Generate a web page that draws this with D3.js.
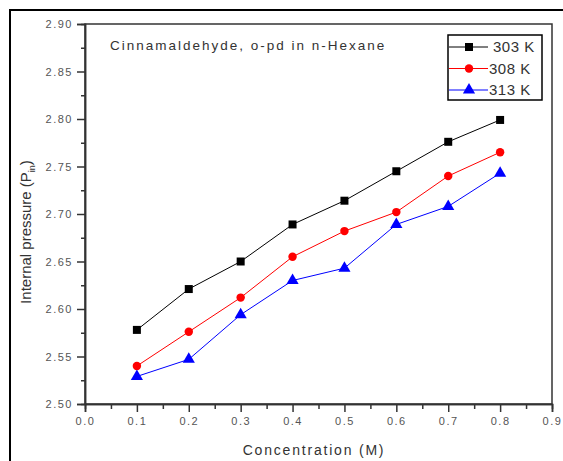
<!DOCTYPE html>
<html>
<head>
<meta charset="utf-8">
<script src="https://cdn.jsdelivr.net/npm/d3@7"></script>
<style>
body { margin: 0; background: #fff; }
svg { display: block; font-family: "Liberation Sans", Arial, sans-serif; }
</style>
</head>
<body>
<div id="chart"></div>
<script>
var width = 563, height = 461;

// data
var concentration = [0.1, 0.2, 0.3, 0.4, 0.5, 0.6, 0.7, 0.8];
var p303 = [2.578, 2.621, 2.650, 2.689, 2.714, 2.745, 2.776, 2.799];
var p308 = [2.540, 2.576, 2.612, 2.655, 2.682, 2.702, 2.740, 2.765];
var p313 = [2.529, 2.547, 2.594, 2.630, 2.643, 2.689, 2.708, 2.743];
var seriesNames = ['303 K', '308 K', '313 K'];
var xTicks = [0.0, 0.1, 0.2, 0.3, 0.4, 0.5, 0.6, 0.7, 0.8, 0.9];
var yTicks = [2.50, 2.55, 2.60, 2.65, 2.70, 2.75, 2.80, 2.85, 2.90];

var series = [
    { name: seriesNames[0], values: p303, color: '#000000', shape: d3.symbolSquare, size: 64 },
    { name: seriesNames[1], values: p308, color: '#ff0000', shape: d3.symbolCircle, size: 56 },
    { name: seriesNames[2], values: p313, color: '#0000ff', shape: d3.symbolTriangle, size: 64 }
];

var plotLeft = 85, plotTop = 24, plotRight = 552, plotBottom = 404;

var svg = d3.select('#chart').append('svg')
    .attr('width', width)
    .attr('height', height);

// outer frame
svg.append('rect')
    .attr('x', 10).attr('y', 10)
    .attr('width', 620).attr('height', 520)
    .attr('fill', 'none')
    .attr('stroke', '#000')
    .attr('stroke-width', 2);

var x = d3.scaleLinear().domain([0, 0.9]).range([plotLeft, plotRight]);
var y = d3.scaleLinear().domain([2.50, 2.90]).range([plotBottom, plotTop]);

// plot box
svg.append('rect')
    .attr('x', plotLeft).attr('y', plotTop)
    .attr('width', plotRight - plotLeft).attr('height', plotBottom - plotTop)
    .attr('fill', 'none')
    .attr('stroke', '#333')
    .attr('stroke-width', 1.5);

// minor ticks
var xMinor = d3.range(0.05, 0.9, 0.1);
var yMinor = d3.range(2.525, 2.9, 0.05);

var gx = svg.append('g').attr('transform', 'translate(0,' + plotBottom + ')');
gx.call(d3.axisBottom(x).tickValues(xTicks).tickSize(8).tickPadding(5)
    .tickFormat(d3.format('.1f')));
gx.append('g').call(d3.axisBottom(x).tickValues(xMinor).tickSize(5).tickFormat(''));

var gy = svg.append('g').attr('transform', 'translate(' + plotLeft + ',0)');
gy.call(d3.axisLeft(y).tickValues(yTicks).tickSize(8).tickPadding(4)
    .tickFormat(d3.format('.2f')));
gy.append('g').call(d3.axisLeft(y).tickValues(yMinor).tickSize(4).tickFormat(''));

svg.selectAll('.domain').attr('stroke', '#333').attr('stroke-width', 1.5);
svg.selectAll('.tick line').attr('stroke', '#333').attr('stroke-width', 1.5);
svg.selectAll('.tick text')
    .attr('fill', '#555')
    .style('font-size', '11px')
    .style('letter-spacing', '1.5px');

// axis titles
svg.append('text')
    .attr('x', 314)
    .attr('y', 455)
    .attr('text-anchor', 'middle')
    .attr('fill', '#333')
    .style('font-size', '14px')
    .style('letter-spacing', '1.8px')
    .text('Concentration (M)');

var yl = svg.append('text')
    .attr('transform', 'translate(31,232) rotate(-90)')
    .attr('text-anchor', 'middle')
    .attr('fill', '#333')
    .style('font-size', '15px');
yl.append('tspan').text('Internal pressure (P');
yl.append('tspan').attr('dy', 4).style('font-size', '9px').text('in');
yl.append('tspan').attr('dy', -4).text(')');

// title
svg.append('text')
    .attr('x', 110).attr('y', 50)
    .attr('fill', '#333')
    .style('font-size', '13.5px')
    .style('letter-spacing', '2px')
    .text('Cinnamaldehyde, o-pd in n-Hexane');

// lines and markers
var line = d3.line()
    .x(function (d, i) { return x(concentration[i]); })
    .y(function (d) { return y(d); });

series.forEach(function (s) {
    svg.append('path')
        .datum(s.values)
        .attr('d', line)
        .attr('fill', 'none')
        .attr('stroke', s.color)
        .attr('stroke-width', 1);
    svg.append('g').selectAll('path')
        .data(s.values)
        .enter()
        .append('path')
        .attr('d', d3.symbol().type(s.shape).size(s.size))
        .attr('transform', function (d, i) {
            return 'translate(' + x(concentration[i]) + ',' + y(d) + ')';
        })
        .attr('fill', s.color);
});

// legend
var lg = svg.append('g');
lg.append('rect')
    .attr('x', 448).attr('y', 35)
    .attr('width', 94).attr('height', 65)
    .attr('fill', '#fff')
    .attr('stroke', '#000')
    .attr('stroke-width', 1.5);
series.forEach(function (s, i) {
    var ly = 47 + i * 21.5;
    lg.append('line')
        .attr('x1', 449).attr('x2', 488)
        .attr('y1', ly).attr('y2', ly)
        .attr('stroke', s.color).attr('stroke-width', 1);
    lg.append('path')
        .attr('d', d3.symbol().type(s.shape).size(s.size))
        .attr('transform', 'translate(469,' + ly + ')')
        .attr('fill', s.color);
    lg.append('text')
        .attr('x', i === 0 ? 493 : 489).attr('y', ly + 5)
        .attr('fill', '#333')
        .style('font-size', '15px')
        .style('letter-spacing', '0.5px')
        .text(s.name);
});
</script>
</body>
</html>
